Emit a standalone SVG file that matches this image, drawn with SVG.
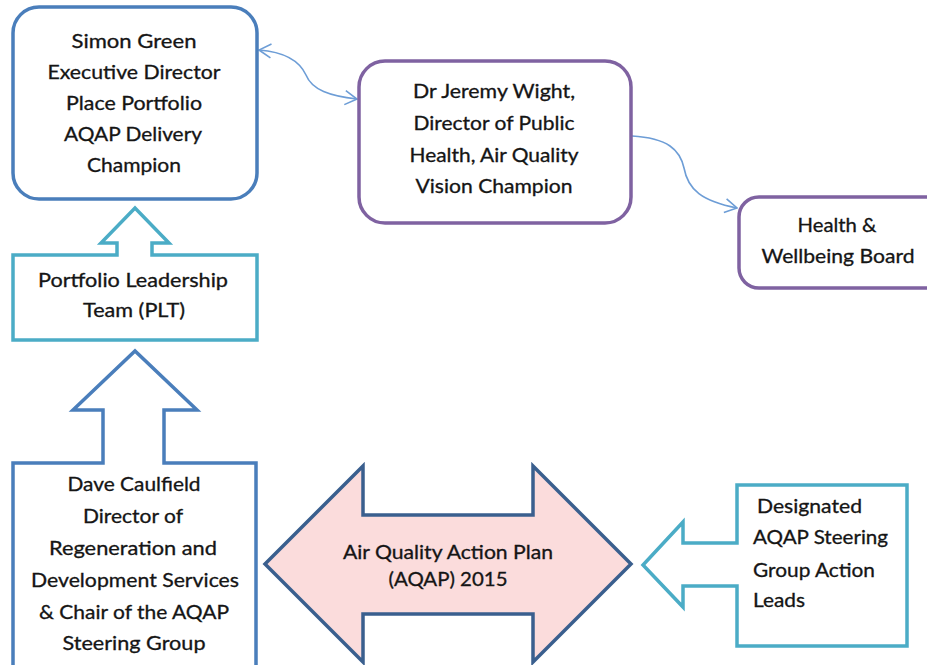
<svg xmlns="http://www.w3.org/2000/svg" width="927" height="665" viewBox="0 0 927 665">
  <defs>
    <style>
      .lbl { font-family: Lato, "Liberation Sans", sans-serif; font-size: 18.5px; fill: #151515; stroke: #151515; stroke-width: 0.3; }
      .mid { text-anchor: middle; }
      .blue { fill: #ffffff; stroke: #4a7ebb; stroke-width: 3.5; }
      .purple { fill: #ffffff; stroke: #7f62a1; stroke-width: 3.5; }
      .teal { fill: #ffffff; stroke: #4bacc6; stroke-width: 3.5; }
      .plan { fill: #fbdcdc; stroke: #3a5f8e; stroke-width: 3.5; stroke-linejoin: miter; }
      .link { fill: none; stroke: #6d9dd6; stroke-width: 1.6; }
    </style>
    <marker id="open" viewBox="0 0 14 16" markerWidth="14" markerHeight="16" refX="13" refY="8" markerUnits="userSpaceOnUse" orient="auto-start-reverse">
      <path d="M1,1 L13,8 L1,15" fill="none" stroke="#6d9dd6" stroke-width="1.6"/>
    </marker>
  </defs>

  <rect width="927" height="665" fill="#ffffff"/>

  <!-- connectors -->
  <g id="connectors">
    <path class="link" d="M259,50 C285,52 300,62 306,75 C312,90 330,96 357,99" marker-start="url(#open)" marker-end="url(#open)"/>
    <path class="link" d="M632,136 C668,138 680,150 684,168 C688,190 702,201 737,208" marker-end="url(#open)"/>
  </g>

  <g id="simon-green">
    <rect class="blue" x="13" y="7" width="244" height="192" rx="26"/>
    <text class="lbl mid" x="134" y="48" textLength="125" lengthAdjust="spacingAndGlyphs">Simon Green</text>
    <text class="lbl mid" x="134" y="79" textLength="173" lengthAdjust="spacingAndGlyphs">Executive Director</text>
    <text class="lbl mid" x="134" y="110" textLength="136" lengthAdjust="spacingAndGlyphs">Place Portfolio</text>
    <text class="lbl mid" x="133" y="141" textLength="138" lengthAdjust="spacingAndGlyphs">AQAP Delivery</text>
    <text class="lbl mid" x="134" y="172" textLength="94" lengthAdjust="spacingAndGlyphs">Champion</text>
  </g>

  <g id="jeremy-wight">
    <rect class="purple" x="359" y="61" width="272" height="162" rx="26"/>
    <text class="lbl mid" x="494" y="98" textLength="162" lengthAdjust="spacingAndGlyphs">Dr Jeremy Wight,</text>
    <text class="lbl mid" x="494" y="130" textLength="161" lengthAdjust="spacingAndGlyphs">Director of Public</text>
    <text class="lbl mid" x="494" y="162" textLength="169" lengthAdjust="spacingAndGlyphs">Health, Air Quality</text>
    <text class="lbl mid" x="494" y="193" textLength="157" lengthAdjust="spacingAndGlyphs">Vision Champion</text>
  </g>

  <g id="health-wellbeing">
    <rect class="purple" x="739" y="197" width="220" height="91" rx="20"/>
    <text class="lbl mid" x="837" y="232" textLength="79" lengthAdjust="spacingAndGlyphs">Health &amp;</text>
    <text class="lbl mid" x="838" y="263" textLength="153" lengthAdjust="spacingAndGlyphs">Wellbeing Board</text>
  </g>

  <g id="plt">
    <path class="teal" d="M13,255 H117 V243 H101 L135,208 L169,243 H152 V255 H257 V340 H13 Z"/>
    <text class="lbl mid" x="133" y="287" textLength="190" lengthAdjust="spacingAndGlyphs">Portfolio Leadership</text>
    <text class="lbl mid" x="134" y="317" textLength="102" lengthAdjust="spacingAndGlyphs">Team (PLT)</text>
  </g>

  <g id="dave-caulfield">
    <path class="blue" d="M13,463 H103 V410 H73 L135,351 L197,410 H164 V463 H256 V690 H13 Z"/>
    <text class="lbl mid" x="134" y="491" textLength="133" lengthAdjust="spacingAndGlyphs">Dave Caulfield</text>
    <text class="lbl mid" x="133" y="523" textLength="100" lengthAdjust="spacingAndGlyphs">Director of</text>
    <text class="lbl mid" x="133" y="555" textLength="168" lengthAdjust="spacingAndGlyphs">Regeneration and</text>
    <text class="lbl mid" x="135" y="587" textLength="208" lengthAdjust="spacingAndGlyphs">Development Services</text>
    <text class="lbl mid" x="134" y="619" textLength="190" lengthAdjust="spacingAndGlyphs">&amp; Chair of the AQAP</text>
    <text class="lbl mid" x="134" y="650" textLength="143" lengthAdjust="spacingAndGlyphs">Steering Group</text>
  </g>

  <g id="aqap-2015">
    <path class="plan" d="M265,564 L363,466 V515 H533 V466 L631,564 L533,662 V614 H363 V662 Z"/>
    <text class="lbl mid" x="448" y="559" textLength="210" lengthAdjust="spacingAndGlyphs">Air Quality Action Plan</text>
    <text class="lbl mid" x="448" y="586" textLength="119" lengthAdjust="spacingAndGlyphs">(AQAP) 2015</text>
  </g>

  <g id="action-leads">
    <path class="teal" d="M737,485 H907 V646 H737 V586 H683 V607 L643,565 L683,522 V543 H737 Z"/>
    <text class="lbl" x="757" y="513" textLength="105" lengthAdjust="spacingAndGlyphs">Designated</text>
    <text class="lbl" x="753" y="544" textLength="135" lengthAdjust="spacingAndGlyphs">AQAP Steering</text>
    <text class="lbl" x="753" y="577" textLength="122" lengthAdjust="spacingAndGlyphs">Group Action</text>
    <text class="lbl" x="753" y="607" textLength="52" lengthAdjust="spacingAndGlyphs">Leads</text>
  </g>
</svg>
